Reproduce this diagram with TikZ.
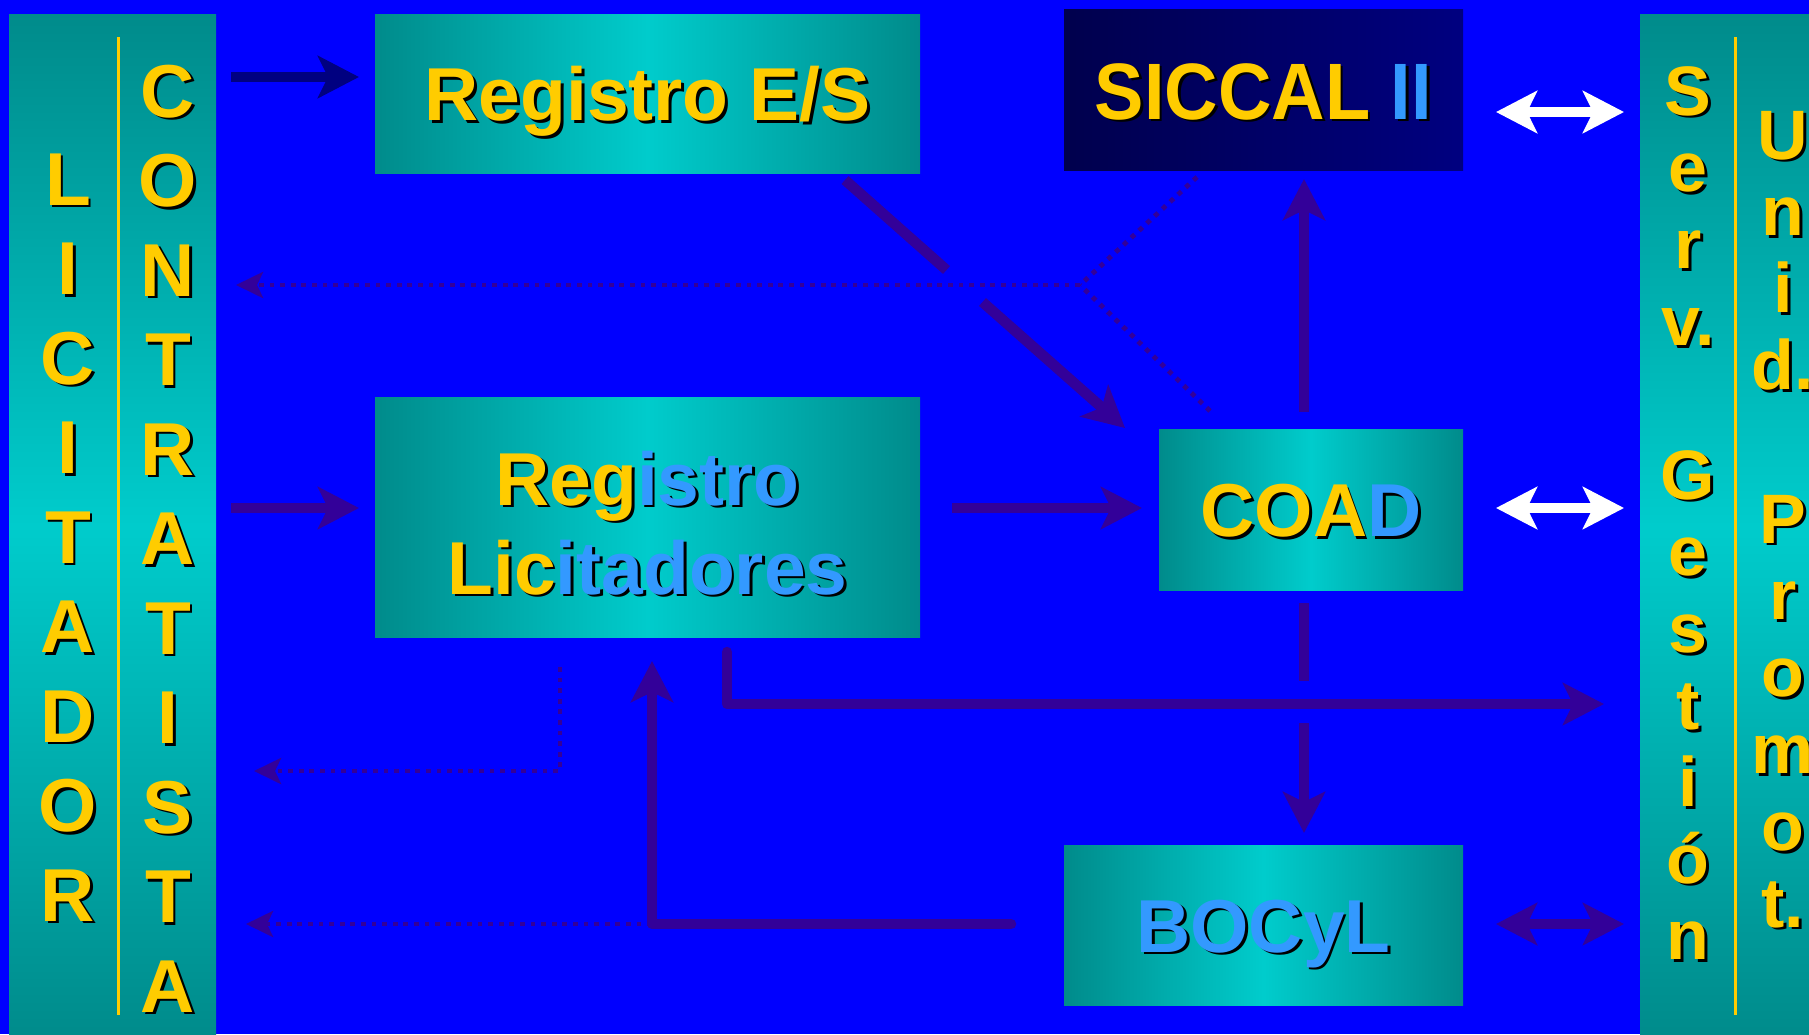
\documentclass[tikz,border=0pt]{standalone}
\usepackage{fontspec}
\setmainfont{Liberation Sans}
\usepackage{graphicx}
\usetikzlibrary{arrows.meta}
\definecolor{bg}{RGB}{0,0,255}
\definecolor{tdark}{RGB}{0,139,139}
\definecolor{tlight}{RGB}{0,204,204}
\definecolor{yel}{RGB}{255,204,0}
\definecolor{lblue}{RGB}{51,153,255}
\definecolor{purp}{RGB}{51,0,153}
\definecolor{navyA}{RGB}{0,0,128}
\definecolor{sicL}{RGB}{0,0,77}
\definecolor{sicR}{RGB}{0,0,128}
\newcommand\shd[2]{\leavevmode\rlap{\kern1.4pt\raisebox{-1.4pt}{\color{black}#2}}{\color{#1}#2}}
\tikzset{
  gbox/.style={inner sep=0pt, left color=tdark, right color=tdark, middle color=tlight,
    font=\fontsize{37.5}{44.5}\selectfont\bfseries, text height=27pt, text depth=0pt},
  sbox/.style={inner sep=0pt, left color=sicL, right color=sicR,
    font=\fontsize{40}{46}\selectfont\bfseries, text height=29.5pt, text depth=0pt},
  vpanel/.style={inner sep=0pt, top color=tdark, bottom color=tdark, middle color=tlight},
  colL/.style={inner sep=0pt, anchor=base, font=\fontsize{37.5}{44.75}\selectfont\bfseries},
  colR/.style={inner sep=0pt, anchor=base, font=\fontsize{35}{38.4}\selectfont\bfseries},
  divider/.style={draw=yel, line width=1.5pt},
  bigtip/.tip={Stealth[length=20.5pt,width=21pt,inset=5pt]},
  smalltip/.tip={Stealth[length=13.5pt,width=13pt,inset=3pt]},
  mainarrow/.style={draw=purp, line width=5.25pt, -bigtip},
  mainline/.style={draw=purp, line width=5.25pt},
  dotline/.style={draw=purp, line width=2.4pt, dash pattern=on 2.4pt off 2.9pt},
  dotarrow/.style={dotline, -smalltip},
  whitearrow/.style={draw=white, line width=5.25pt, bigtip-bigtip},
  purparrow/.style={draw=purp, line width=5.25pt, bigtip-bigtip},
}
\begin{document}
\begin{tikzpicture}[x=0.5pt,y=-0.5pt]
\useasboundingbox (0,0) rectangle (1809,1034);
\clip (0,0) rectangle (1809,1034);
\fill[bg] (0,0) rectangle (1809,1034);

% side panels
\node[vpanel, minimum width=103.5pt, minimum height=512pt] (lp) at (112.5,526) {};
\node[vpanel, minimum width=90pt, minimum height=512pt] (rp) at (1730,526) {};
\draw[divider] (118,37) -- (118,1015);
\draw[divider] (1735,37) -- (1735,1015);

\node[colL] (licit) at (68,205) {\shd{yel}{\parbox[t]{50pt}{\centering L\\I\\C\\I\\T\\A\\D\\O\\R}}};
\node[colL] (contr) at (168,117) {\shd{yel}{\parbox[t]{50pt}{\centering C\\O\\N\\T\\R\\A\\T\\I\\S\\T\\A}}};
\node[colR] (serv) at (1688,115) {\shd{yel}{\parbox[t]{50pt}{\centering S\\e\\r\\v.\\\mbox{}\\G\\e\\s\\t\\i\\ó\\n}}};
\node[colR] (unid) at (1783,159) {\shd{yel}{\parbox[t]{50pt}{\centering U\\n\\i\\d.\\\mbox{}\\P\\r\\o\\m\\o\\t.}}};

% boxes
\node[gbox, minimum width=272.5pt, minimum height=79.5pt] (res) at (647.5,93.5) {\shd{yel}{Registro E/S}};
\node[sbox, minimum width=199.5pt, minimum height=80.5pt] (sic) at (1263.5,89.5) {\scalebox{0.925}[1]{\shd{yel}{SICCAL}\ \shd{lblue}{II}}};
\node[gbox, minimum width=272.5pt, minimum height=120pt, text height=77pt] (rl) at (647.5,517)
  {\parbox[b]{270pt}{\centering\shd{yel}{Reg}\shd{lblue}{istro}\\\shd{yel}{Lic}\shd{lblue}{itadores}}};
\node[gbox, minimum width=152pt, minimum height=80.5pt] (coad) at (1311,509.5) {\shd{yel}{COA}\shd{lblue}{D}};
\node[gbox, minimum width=199.5pt, minimum height=80pt] (bocyl) at (1263.5,925) {\shd{lblue}{BOCyL}};

% connector end points
\coordinate (a1s) at (231,77);   \coordinate (a1e) at (359,77);
\coordinate (a2s) at (231,508);  \coordinate (a2e) at (359,508);
\coordinate (a3s) at (952,508);  \coordinate (a3e) at (1142,508);
\coordinate (ds1) at (845,180);  \coordinate (ds2) at (946.5,270);
\coordinate (ds3) at (982.5,302);\coordinate (ds4) at (1125,428);
\coordinate (ju) at (1080,285);  \coordinate (dsic) at (1197,177);
\coordinate (dcoad) at (1210,411); \coordinate (dtip1) at (236,285);
\coordinate (upS) at (1304,412); \coordinate (upE) at (1304,179);
\coordinate (dnA) at (1304,603); \coordinate (dnB) at (1304,681);
\coordinate (dnC) at (1304,723); \coordinate (dnE) at (1304,833);
\coordinate (lA) at (727,652);   \coordinate (lB) at (727,704);  \coordinate (lE) at (1604,704);
\coordinate (bA) at (1011,924);  \coordinate (bB) at (652,924);  \coordinate (bE) at (652,661);
\coordinate (dA) at (560,667);   \coordinate (dB) at (560,771);  \coordinate (dE) at (254,771);
\coordinate (dC) at (246,924);
\coordinate (w1a) at (1496,112); \coordinate (w1b) at (1624,112);
\coordinate (w2a) at (1496,508); \coordinate (w2b) at (1624,508);
\coordinate (w3a) at (1496,924); \coordinate (w3b) at (1624,924);

% dotted lines
\draw[dotline] (dsic) -- (ju);
\draw[dotline] (dcoad) -- (ju);
\draw[dotarrow] (ju) -- (dtip1);
\draw[dotarrow] (dA) -- (dB) -- (dE);
\draw[dotarrow] (bB) -- (dC);

% solid arrows
\draw[mainarrow, draw=navyA] (a1s) -- (a1e);
\draw[mainarrow] (a2s) -- (a2e);
\draw[mainarrow] (a3s) -- (a3e);
\draw[mainline] (ds1) -- (ds2);
\draw[mainarrow] (ds3) -- (ds4);
\draw[mainarrow] (upS) -- (upE);
\draw[mainline] (dnA) -- (dnB);
\draw[mainarrow] (dnC) -- (dnE);
\draw[mainarrow, line cap=round, line join=round] (lA) -- (lB) -- (lE);
\draw[mainarrow, line cap=round, line join=round] (bA) -- (bB) -- (bE);

% double arrows
\draw[whitearrow] (w1a) -- (w1b);
\draw[whitearrow] (w2a) -- (w2b);
\draw[purparrow] (w3a) -- (w3b);
\end{tikzpicture}
\end{document}
